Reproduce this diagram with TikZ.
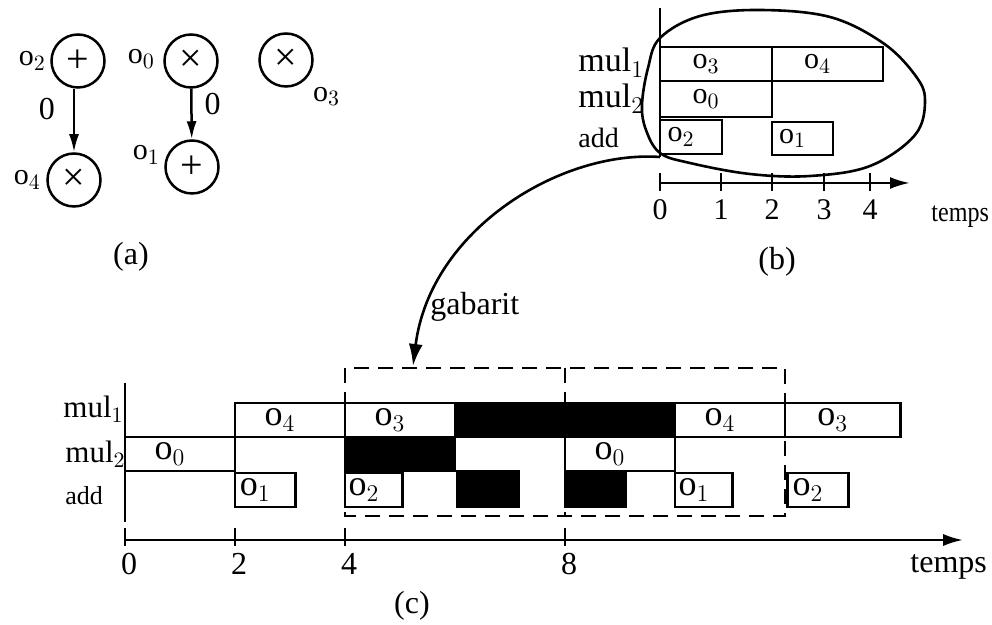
\documentclass[tikz,border=0pt]{standalone}
\usepackage{fontspec}
\setmainfont{Liberation Serif}
\newfontfamily\narrowserif[FakeStretch=0.86]{Liberation Serif}
\usetikzlibrary{arrows.meta,positioning}

\newcommand{\opn}[1]{$\mathrm{o}_{#1}$}

\tikzset{
  opnode/.style={circle,draw,line width=1.25pt,minimum size=26.5pt,inner sep=0pt,font=\fontsize{20}{20}\selectfont},
  opname/.style={inner sep=0pt,font=\fontsize{15}{15}\selectfont},
  deparrow/.style={-{Latex[length=9pt,width=5pt]},line width=1.25pt},
  weight/.style={inner sep=0pt,font=\fontsize{16}{16}\selectfont},
  taskbox/.style={draw,line width=1.35pt,fill=white},
  busybox/.style={draw,line width=1.35pt,fill=black},
  tasktext/.style={inner sep=0pt,xshift=-5pt,font=\fontsize{#1}{#1}\selectfont},
  tasktext/.default=15,
  unitname/.style={anchor=base west,inner sep=0pt,font=\fontsize{#1}{#1}\selectfont},
  unitname/.default=17,
  timeword/.style={anchor=base west,inner sep=0pt,font=\narrowserif\fontsize{14}{14}\selectfont},
  timeaxis/.style={-{Latex[length=10pt,width=6pt]},line width=1.3pt},
  timetick/.style={line width=1.3pt},
  timenum/.style={anchor=base,inner sep=0pt,font=\fontsize{#1}{#1}\selectfont},
  timenum/.default=15,
  caption/.style={inner sep=0pt,font=\fontsize{16}{16}\selectfont},
  gabaritline/.style={line width=1.3pt,dash pattern=on 7.5pt off 4.5pt},
  gabaritarrow/.style={-{Latex[length=11pt,width=7pt]},line width=1.3pt}
}

\begin{document}
\begin{tikzpicture}[x=0.5pt,y=-0.5pt]
\useasboundingbox (0,0) rectangle (992,625);
% (a): operations and dependences
\node[opnode] (o2op) at (78,61) {+};
\node[opnode] (o4op) at (74,180) {×};
\node[opnode] (o0op) at (191,61) {×};
\node[opnode] (o1op) at (192,167) {+};
\node[opnode] (o3op) at (286,60) {×};
\node[opname, left=2pt of o2op] (o2name) {\opn{2}};
\node[opname, left=2.5pt of o4op] (o4name) {\opn{4}};
\node[opname, left=4pt of o0op, yshift=1pt] (o0name) {\opn{0}};
\node[opname, left=2pt of o1op, yshift=6pt] (o1name) {\opn{1}};
\node[opname, below right=3.5pt and 3.5pt of o3op] (o3name) {\opn{3}};
\draw[deparrow] (o2op.south -| o4op.north) -- node[weight, pos=0.32, left=9pt] (w24) {0} (o4op.north);
\draw[deparrow] (o0op) -- node[weight, pos=0.3, right=6pt] (w01) {0} (o1op);
\node[caption] (capa) at (131,257) {(a)};

% (b): one iteration on the three units
\draw[taskbox] (660,47) rectangle node[tasktext] (b3) {\opn{3}} (772,81);
\draw[taskbox] (772,47) rectangle node[tasktext] (b4) {\opn{4}} (883,81);
\draw[taskbox] (660,81) rectangle node[tasktext] (b0) {\opn{0}} (772,117);
\draw[taskbox] (660,120) rectangle node[tasktext] (b2) {\opn{2}} (722,154);
\draw[taskbox] (772,122) rectangle node[tasktext] (b1) {\opn{1}} (833,155);
\draw[line width=1.3pt] (660,8) -- (660,157) coordinate (gabstart);
\draw[line width=1.3pt] plot[smooth cycle, tension=0.6] coordinates {
  (660,38) (700,16) (760,10) (830,17) (883,43) (915,75) (925,100) (915,135)
  (870,166) (810,176) (750,174) (690,163) (660,153) (646,130) (642,105) (648,68)};
\node[unitname] (bmul1) at (578,72) {$\mathrm{mul}_1$};
\node[unitname] (bmul2) at (578,108) {$\mathrm{mul}_2$};
\node[unitname=14] (badd) at (578,148) {add};
\draw[timeaxis] (660,183) -- (910,183);
\foreach \x/\t in {660/0,721/1,772/2,824/3,870/4} {
  \draw[timetick] (\x,173) -- (\x,191);
  \node[timenum] (bt\t) at (\x,220) {\t};
}
\node[timeword] (btemps) at (931,222) {temps};
\node[caption] (capb) at (777,262) {(b)};

% (c): repeated schedule, one time unit = 55
\begin{scope}[shift={(125,0)},x=27.5pt]
\draw[line width=1.3pt] (0,383) -- (0,522);
\draw[gabaritline] (4,368) rectangle (12,516);
\draw[gabaritline] (8,368) -- (8,516);
% mul1
\draw[taskbox] (2,403) rectangle node[tasktext=18] (c4a) {\opn{4}} (4,437);
\draw[taskbox] (4,403) rectangle node[tasktext=18] (c3a) {\opn{3}} (6,437);
\draw[busybox] (6,403) rectangle (10,437);
\draw[taskbox] (10,403) rectangle node[tasktext=18] (c4b) {\opn{4}} (12,437);
\draw[taskbox] (12,403) rectangle node[tasktext=18] (c3b) {\opn{3}} (14.1,437);
% mul2
\draw[taskbox] (0,437) rectangle node[tasktext=18] (c0a) {\opn{0}} (2,471);
\draw[busybox] (4,437) rectangle (6,471);
\draw[taskbox] (8,437) rectangle node[tasktext=18] (c0b) {\opn{0}} (10,471);
% add
\draw[taskbox] (2,473) rectangle node[tasktext=18] (c1a) {\opn{1}} (3.1,507);
\draw[taskbox] (4,473) rectangle node[tasktext=18] (c2a) {\opn{2}} (5.05,507);
\draw[busybox] (6.05,471) rectangle (7.15,507);
\draw[busybox] (8,471) rectangle (9.1,507);
\draw[taskbox] (10,473) rectangle node[tasktext=18] (c1b) {\opn{1}} (11.05,507);
\draw[taskbox] (12.05,473) rectangle node[tasktext=18] (c2b) {\opn{2}} (13.15,507);
% time axis
\draw[timeaxis] (0,540) -- (15.24,540);
\foreach \t in {0,2,4,8} {
  \draw[timetick] (\t,528) -- (\t,546);
  \node[timenum=16] (ct\t) at ([xshift=2pt]\t,575) {\t};
}
\end{scope}
\node[unitname=15.5] (cmul1) at (63,418) {$\mathrm{mul}_1$};
\node[unitname=15.5] (cmul2) at (65,463) {$\mathrm{mul}_2$};
\node[unitname=13] (cadd) at (65,505) {add};
\node[unitname=16] (ctemps) at (910,573) {temps};
\node[caption] (capc) at (412,606) {(c)};

% the one-iteration schedule used as a template
\node[unitname=16] (gablabel) at (430,315) {gabarit};
\coordinate (gabtip) at (413,366);
\draw[gabaritarrow] (gabstart) .. controls (560,150) and (430,230) .. (gabtip);
\end{tikzpicture}
\end{document}
